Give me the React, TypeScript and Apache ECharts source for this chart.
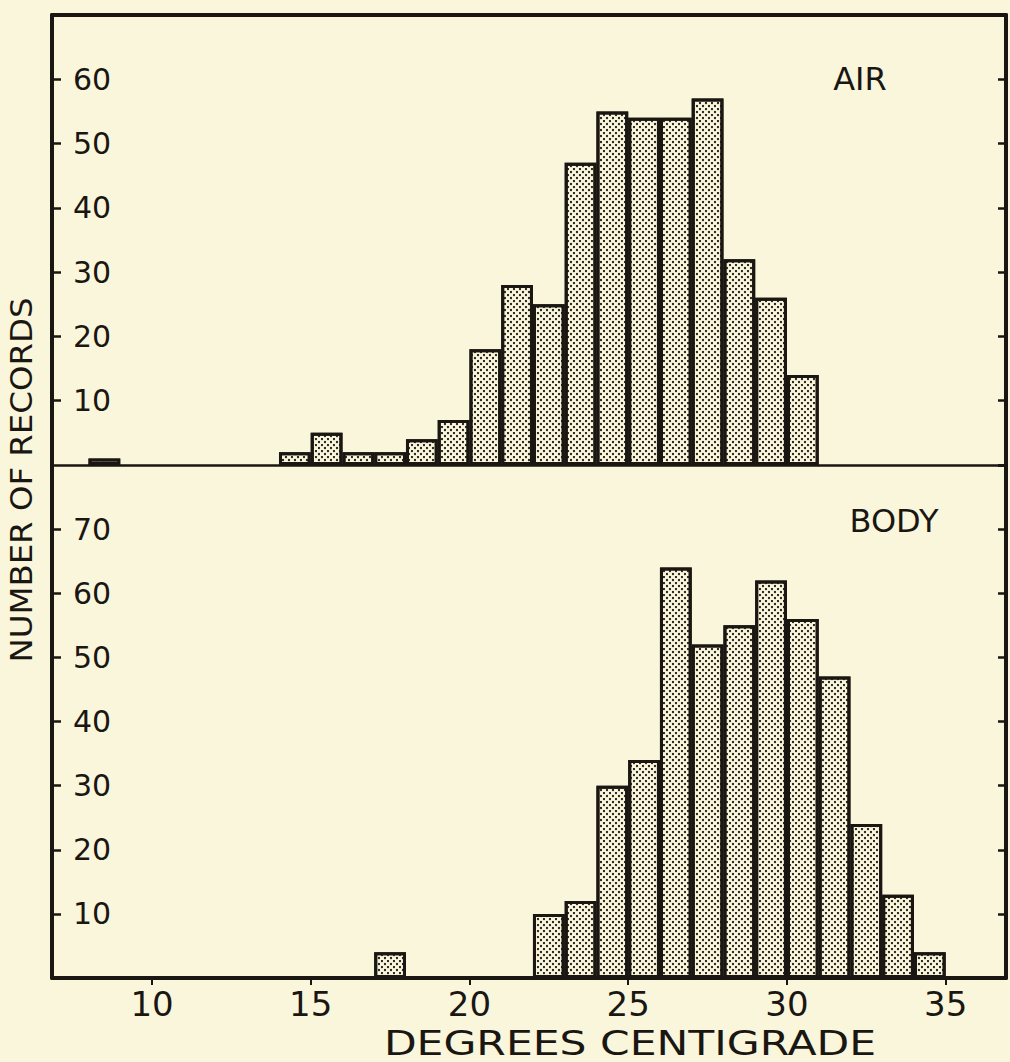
import React, { useEffect, useRef } from "react";
import * as echarts from "echarts";

// AIR histogram: bin start (°C) and number of records
const airBins = [8, 14, 15, 16, 17, 18, 19, 20, 21, 22, 23, 24, 25, 26, 27, 28, 29, 30];
const airCounts = [1, 2, 5, 2, 2, 4, 7, 18, 28, 25, 47, 55, 54, 54, 57, 32, 26, 14];

// BODY histogram
const bodyBins = [17, 22, 23, 24, 25, 26, 27, 28, 29, 30, 31, 32, 33, 34];
const bodyCounts = [4, 10, 12, 30, 34, 64, 52, 55, 62, 56, 47, 24, 13, 4];

const xTickValues = [10, 15, 20, 25, 30, 35];
const xMin = 6.85;
const xMax = 36.9;
const airMax = 70;
const bodyMax = 80;
const yInterval = 10;

const BG = "#faf6dc";
const INK = "#1a1612";
const FONT = "DejaVu Sans";

export default function App() {
  const ref = useRef<HTMLDivElement>(null);

  useEffect(() => {
    if (!ref.current) return;
    const chart = echarts.init(ref.current, undefined, { renderer: "svg" });

    const gridLeft = 52;
    const gridRight = 4;
    const chartWidth = 1010;
    const plotW = chartWidth - gridLeft - gridRight;
    const barW = plotW / (xMax - xMin);

    const decal = {
      symbol: "circle",
      symbolSize: 1.15,
      color: INK,
      backgroundColor: BG,
      dashArrayX: [
        [2, 4],
        [0, 3, 2, 1],
      ],
      dashArrayY: [2, 1],
      rotation: 0,
    };

    const barItemStyle = {
      color: BG,
      borderColor: INK,
      borderWidth: 3,
      decal,
    };

    const hiddenAxisBits = {
      axisTick: { show: false },
      axisLabel: { show: false },
      splitLine: { show: false },
    };

    const yLabel = {
      inside: true,
      margin: 21,
      fontSize: 30,
      fontFamily: FONT,
      color: INK,
      showMinLabel: false,
      showMaxLabel: false,
    };

    const option: any = {
      animation: false,
      backgroundColor: BG,
      grid: [
        { left: gridLeft, right: gridRight, top: 15, height: 450 },
        { left: gridLeft, right: gridRight, top: 465, height: 513 },
      ],
      xAxis: [
        {
          gridIndex: 0,
          type: "value",
          min: xMin,
          max: xMax,
          position: "bottom",
          axisLine: { onZero: false, lineStyle: { color: INK, width: 2.5 } },
          ...hiddenAxisBits,
        },
        {
          gridIndex: 0,
          type: "value",
          min: xMin,
          max: xMax,
          position: "top",
          axisLine: { onZero: false, lineStyle: { color: INK, width: 4 } },
          ...hiddenAxisBits,
        },
        {
          gridIndex: 1,
          type: "value",
          min: xMin,
          max: xMax,
          position: "bottom",
          axisLine: { onZero: false, lineStyle: { color: INK, width: 4 } },
          axisTick: {
            show: true,
            customValues: xTickValues,
            length: 7,
            lineStyle: { color: INK, width: 2 },
          },
          axisLabel: {
            customValues: xTickValues,
            margin: 9,
            fontSize: 34,
            fontFamily: FONT,
            color: INK,
          },
          splitLine: { show: false },
        },
      ],
      yAxis: [
        {
          gridIndex: 0,
          type: "value",
          position: "left",
          min: 0,
          max: airMax,
          interval: yInterval,
          axisLine: { show: true, onZero: false, lineStyle: { color: INK, width: 4 } },
          axisTick: { show: true, inside: true, length: 9, lineStyle: { color: INK, width: 2.5 } },
          axisLabel: yLabel,
          splitLine: { show: false },
        },
        {
          gridIndex: 0,
          type: "value",
          position: "right",
          min: 0,
          max: airMax,
          interval: yInterval,
          axisLine: { show: true, onZero: false, lineStyle: { color: INK, width: 4 } },
          axisTick: { show: true, inside: true, length: 8, lineStyle: { color: INK, width: 2.5 } },
          axisLabel: { show: false },
          splitLine: { show: false },
        },
        {
          gridIndex: 1,
          type: "value",
          position: "left",
          min: 0,
          max: bodyMax,
          interval: yInterval,
          axisLine: { show: true, onZero: false, lineStyle: { color: INK, width: 4 } },
          axisTick: { show: true, inside: true, length: 9, lineStyle: { color: INK, width: 2.5 } },
          axisLabel: yLabel,
          splitLine: { show: false },
        },
        {
          gridIndex: 1,
          type: "value",
          position: "right",
          min: 0,
          max: bodyMax,
          interval: yInterval,
          axisLine: { show: true, onZero: false, lineStyle: { color: INK, width: 4 } },
          axisTick: { show: true, inside: true, length: 8, lineStyle: { color: INK, width: 2.5 } },
          axisLabel: { show: false },
          splitLine: { show: false },
        },
      ],
      series: [
        {
          name: "AIR",
          type: "bar",
          xAxisIndex: 0,
          yAxisIndex: 0,
          barWidth: barW,
          itemStyle: barItemStyle,
          data: airBins.map((b, i) => [b + 0.5, airCounts[i]]),
        },
        {
          name: "BODY",
          type: "bar",
          xAxisIndex: 2,
          yAxisIndex: 2,
          barWidth: barW,
          itemStyle: barItemStyle,
          data: bodyBins.map((b, i) => [b + 0.5, bodyCounts[i]]),
        },
      ],
      graphic: [
        {
          type: "text",
          x: 860,
          y: 79,
          style: {
            text: "AIR",
            fontSize: 32,
            fontFamily: FONT,
            fill: INK,
            align: "center",
            verticalAlign: "middle",
          },
        },
        {
          type: "text",
          x: 894,
          y: 521,
          style: {
            text: "BODY",
            fontSize: 32,
            fontFamily: FONT,
            fill: INK,
            align: "center",
            verticalAlign: "middle",
          },
        },
        {
          type: "text",
          x: 21,
          y: 480,
          rotation: Math.PI / 2,
          scaleX: 1.08,
          style: {
            text: "NUMBER OF RECORDS",
            fontSize: 30,
            fontFamily: FONT,
            fill: INK,
            align: "center",
            verticalAlign: "middle",
          },
        },
        {
          type: "text",
          x: 630,
          y: 1043,
          scaleX: 1.25,
          style: {
            text: "DEGREES CENTIGRADE",
            fontSize: 34,
            fontFamily: FONT,
            fill: INK,
            align: "center",
            verticalAlign: "middle",
          },
        },
      ],
    };

    chart.setOption(option);
    return () => chart.dispose();
  }, []);

  return (
    <div
      ref={ref}
      style={{ position: "fixed", left: 0, top: 0, width: 1010, height: 1062, background: BG }}
    />
  );
}
